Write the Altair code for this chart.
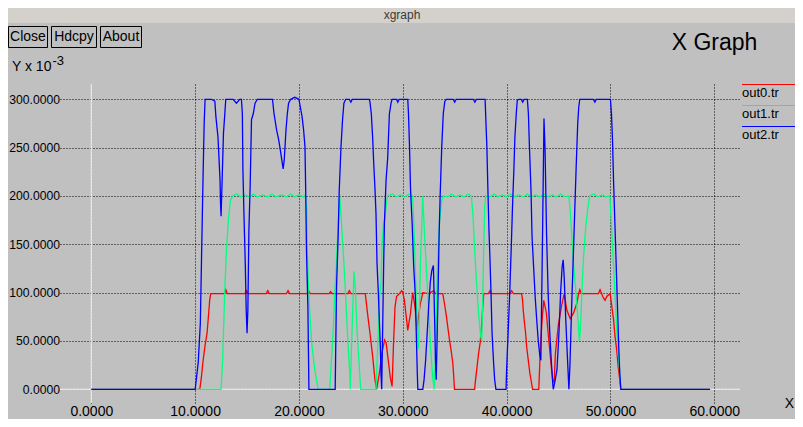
import altair as alt
import pandas as pd

# ---------------- data (x, y in units of 10^-3) ----------------
red_points = [
    (0, 0), (10.45, 0), (10.6, 12), (10.75, 28), (10.95, 45), (11.15, 58), (11.3, 78), (11.4, 92), (11.5, 99),
    (12.8, 99), (12.95, 103), (13.1, 99), (14.8, 99), (14.95, 102), (15.1, 99),
    (16.85, 99), (17.0, 102), (17.15, 99), (18.8, 99), (18.95, 102), (19.1, 99),
    (20.8, 99), (20.98, 101), (21.1, 99), (22.9, 99), (23.05, 101), (23.2, 99),
    (24.7, 99), (24.85, 102), (25.0, 99), (26.39, 99),
    (26.6, 79), (26.84, 58), (27.1, 34), (27.32, 10), (27.48, 0),
    (27.75, 17), (28.0, 38), (28.25, 51), (28.4, 48), (28.6, 30), (28.8, 12), (28.97, 3),
    (29.1, 45), (29.25, 85), (29.4, 96), (29.6, 98), (29.9, 102), (30.0, 100),
    (30.16, 92), (30.26, 82), (30.39, 70), (30.48, 61), (30.61, 70), (30.74, 78), (30.87, 92), (30.96, 100),
    (31.12, 89), (31.28, 75), (31.38, 61), (31.51, 75), (31.7, 89), (31.83, 95), (31.93, 100),
    (32.5, 99), (32.99, 102), (33.15, 99), (33.85, 99),
    (34.01, 89), (34.17, 78), (34.34, 64), (34.5, 51), (34.66, 40), (34.82, 27), (34.91, 13), (34.98, 0),
    (36.92, 0), (37.0, 9), (37.15, 23), (37.3, 37), (37.45, 48), (37.6, 66), (37.7, 85), (37.8, 99),
    (38.25, 99), (38.4, 102), (38.55, 99), (40.3, 99), (40.48, 102), (40.65, 99), (41.45, 99),
    (41.54, 92), (41.6, 82), (41.7, 71), (41.83, 58), (41.93, 44), (42.09, 30), (42.25, 16), (42.41, 6), (42.5, 0),
    (43.1, 0), (43.26, 44), (43.42, 72), (43.58, 92), (43.83, 79), (44.06, 51), (44.31, 23), (44.44, 10),
    (44.58, 7), (44.7, 37), (44.86, 54), (45.0, 68), (45.18, 79), (45.34, 89), (45.55, 99),
    (45.8, 82), (46.13, 73), (46.45, 79), (46.77, 89), (46.93, 99), (47.05, 103), (47.2, 99),
    (48.85, 99), (49.0, 103), (49.15, 99), (49.3, 95), (49.48, 92), (49.65, 96), (49.97, 99),
    (50.13, 86), (50.3, 72), (50.45, 54), (50.6, 41), (50.75, 23), (50.9, 10), (51.0, 0), (59.6, 0),
]

green_points = [
    (0, 0), (12.5, 0), (12.65, 30), (12.85, 100), (13.0, 140), (13.2, 175), (13.4, 195), (13.6, 200),
    (14.0, 202), (14.4, 199), (14.8, 201), (15.2, 199), (15.6, 202), (16.0, 199), (16.5, 201), (17.0, 199),
    (17.4, 202), (17.8, 199), (18.3, 201), (18.8, 199), (19.2, 202), (19.6, 199), (20.0, 201), (20.4, 199), (20.6, 201),
    (20.73, 189), (20.79, 148), (20.89, 113), (21.05, 79), (21.2, 51), (21.37, 34), (21.53, 20), (21.69, 10), (21.85, 0),
    (22.97, 0), (23.1, 25), (23.3, 61), (23.45, 99), (23.6, 127), (23.75, 165), (23.92, 201),
    (24.1, 171), (24.26, 144), (24.42, 113), (24.58, 79), (24.74, 44), (24.88, 20), (24.95, 0),
    (25.05, 40), (25.15, 72), (25.3, 122), (25.45, 100), (25.6, 60), (25.8, 25), (25.95, 0),
    (27.42, 0), (27.52, 27), (27.65, 61), (27.74, 92), (27.9, 110), (28.0, 148), (28.15, 172), (28.3, 178),
    (28.45, 195), (28.55, 200), (29.0, 202), (29.4, 199), (29.8, 201), (30.2, 199), (30.6, 202), (30.95, 200),
    (31.1, 160), (31.25, 110), (31.4, 60), (31.52, 42), (31.7, 130), (31.92, 200),
    (32.1, 160), (32.3, 120), (32.5, 80), (32.7, 40), (32.9, 10), (33.05, 0),
    (33.2, 60), (33.35, 130), (33.55, 175), (33.75, 195), (33.9, 200),
    (34.3, 199), (34.7, 202), (35.1, 199), (35.5, 201), (35.9, 199), (36.3, 202), (36.6, 200),
    (36.75, 182), (36.9, 150), (37.05, 120), (37.2, 95), (37.35, 72), (37.5, 55), (37.6, 50),
    (37.7, 90), (37.8, 150), (37.9, 190), (38.0, 200),
    (38.4, 199), (38.8, 202), (39.2, 199), (39.6, 201), (40.0, 199), (40.4, 202), (40.8, 199), (41.2, 201),
    (41.6, 199), (42.0, 202), (42.4, 199), (42.8, 201), (43.2, 199), (43.6, 202), (44.0, 199), (44.4, 201),
    (44.8, 199), (45.2, 202), (45.6, 199), (46.0, 200),
    (46.15, 182), (46.3, 155), (46.45, 130), (46.6, 110), (46.75, 90), (46.9, 68), (47.0, 50),
    (47.1, 60), (47.25, 100), (47.4, 135), (47.6, 165), (47.8, 185), (48.0, 200),
    (48.4, 202), (48.8, 199), (49.2, 201), (49.6, 199), (49.95, 200),
    (50.05, 180), (50.2, 148), (50.35, 118), (50.5, 86), (50.65, 55), (50.8, 30), (50.95, 8), (51.0, 0), (59.6, 0),
]

blue_points = [
    (0, 0), (10.0, 0), (10.06, 5), (10.3, 28), (10.5, 68), (10.68, 172), (10.77, 223), (10.87, 275), (10.96, 300),
    (11.57, 300), (11.9, 298), (12.0, 282), (12.2, 261), (12.3, 239), (12.4, 216), (12.45, 191), (12.5, 179),
    (12.6, 216), (12.73, 265), (12.86, 285), (12.95, 300), (13.66, 300), (13.98, 296), (14.3, 300), (14.46, 300),
    (14.55, 285), (14.6, 229), (14.7, 182), (14.83, 130), (14.92, 82), (15.0, 58), (15.08, 82), (15.18, 165),
    (15.3, 210), (15.43, 279), (15.6, 285), (15.77, 296), (16.0, 300), (17.45, 300),
    (17.6, 285), (17.85, 268), (18.05, 258), (18.2, 248), (18.35, 237), (18.48, 228), (18.58, 237), (18.75, 268),
    (18.88, 285), (19.0, 296), (19.2, 300), (19.6, 302), (20.0, 300),
    (20.13, 292), (20.3, 282), (20.45, 268), (20.58, 251), (20.65, 206), (20.73, 141), (20.86, 86), (20.96, 0),
    (23.49, 0), (23.62, 106), (23.78, 160), (23.88, 206), (24.05, 251), (24.2, 279), (24.33, 296), (24.5, 300),
    (24.85, 300), (25.0, 297), (25.15, 300), (26.77, 300),
    (26.84, 297), (26.97, 285), (27.1, 260), (27.2, 234), (27.32, 208), (27.42, 182), (27.52, 130), (27.65, 99),
    (27.74, 72), (27.84, 44), (27.9, 16), (27.97, 0),
    (28.06, 60), (28.16, 130), (28.23, 171), (28.39, 216), (28.55, 240), (28.71, 285), (28.87, 296), (28.97, 300),
    (29.4, 300), (29.52, 297), (29.65, 300), (30.48, 300),
    (30.55, 285), (30.65, 251), (30.75, 206), (30.9, 172), (31.05, 127), (31.2, 99), (31.3, 58), (31.4, 16), (31.45, 0),
    (31.93, 0), (32.05, 10), (32.2, 30), (32.35, 58), (32.5, 87), (32.65, 111), (32.8, 123), (32.95, 128),
    (33.05, 80), (33.15, 30), (33.22, 10), (33.3, 50), (33.4, 100), (33.5, 160), (33.6, 200), (33.75, 250),
    (33.9, 285), (34.05, 298), (34.2, 300),
    (34.85, 300), (35.0, 297), (35.15, 300), (36.8, 300), (36.94, 297), (37.1, 300), (37.93, 300),
    (38.0, 279), (38.1, 251), (38.2, 206), (38.3, 165), (38.4, 134), (38.5, 99), (38.6, 58), (38.75, 27),
    (38.85, 10), (38.97, 0), (39.95, 0),
    (40.0, 20), (40.13, 54), (40.3, 99), (40.45, 148), (40.57, 189), (40.7, 227), (40.8, 261), (40.93, 285),
    (41.03, 299), (41.2, 300), (41.4, 300), (41.55, 297), (41.7, 300), (42.0, 300),
    (42.1, 285), (42.2, 251), (42.35, 206), (42.45, 158), (42.6, 127), (42.75, 96), (42.9, 72), (43.05, 50),
    (43.2, 35), (43.3, 30), (43.45, 150), (43.6, 280), (43.7, 250), (43.85, 160), (44.0, 100), (44.15, 60),
    (44.3, 30), (44.45, 5), (44.5, 0), (44.65, 8), (44.85, 20), (45.05, 60), (45.2, 100), (45.35, 127),
    (45.45, 134), (45.55, 115), (45.7, 72), (45.85, 35), (46.0, 0), (46.1, 25), (46.25, 80), (46.4, 130),
    (46.55, 180), (46.7, 230), (46.85, 275), (46.95, 292), (47.05, 300), (48.35, 300), (48.5, 297), (48.65, 300),
    (50.0, 300), (50.1, 285), (50.2, 258), (50.3, 216), (50.4, 182), (50.5, 148), (50.6, 113), (50.7, 79),
    (50.8, 44), (50.9, 17), (51.0, 0), (59.6, 0),
]

x_ticks = [0, 10, 20, 30, 40, 50, 60]
y_ticks = [0, 50, 100, 150, 200, 250, 300]
series_names = ["out0.tr", "out1.tr", "out2.tr"]
series_colors = ["#FF0000", "#00FF7F", "#0000FF"]
button_labels = ["Close", "Hdcpy", "About"]

FONT = "Liberation Sans"
BG = "#C0C0C0"


def frame(points):
    return pd.DataFrame(points, columns=["x", "y"])


x_scale = alt.Scale(domain=[-3.015, 62.48], nice=False, zero=False)
y_scale = alt.Scale(domain=[-14.17, 315.8], nice=False, zero=False)

common_axis = dict(
    format=".4f", title=None, grid=True, gridColor="black", gridDash=[1, 2], gridOpacity=1,
    gridWidth=1, domain=False, ticks=False, tickSize=0, labelFont=FONT,
    labelColor="black", labelOverlap=False, labelFlush=False,
)
x_axis = alt.Axis(values=x_ticks, labelPadding=12.5, labelBaseline="alphabetic", labelFontSize=14, **common_axis)
y_axis = alt.Axis(values=y_ticks, labelPadding=0.5, labelFontSize=12.2, **common_axis)

X = lambda: alt.X("x:Q", scale=x_scale, axis=x_axis)
Y = lambda: alt.Y("y:Q", scale=y_scale, axis=y_axis)

dummy = pd.DataFrame({"k": [0]})

layers = []

# white axis lines at x = 0 and y = 0
layers.append(alt.Chart(pd.DataFrame({"x": [0]})).mark_rule(color="white", strokeWidth=1).encode(x=X()))
layers.append(alt.Chart(pd.DataFrame({"y": [0]})).mark_rule(color="white", strokeWidth=1).encode(y=Y()))

# data traces (drawn in set order: red, green, blue)
for pts, col in zip([red_points, green_points, blue_points], series_colors):
    layers.append(
        alt.Chart(frame(pts)).mark_line(color=col, strokeWidth=1.3, interpolate="linear").encode(x=X(), y=Y())
    )


def txt(s, x, y, size=14, align="left", color="black"):
    return alt.Chart(dummy).mark_text(
        text=s, align=align, baseline="alphabetic", font=FONT, fontSize=size, color=color
    ).encode(x=alt.value(x), y=alt.value(y))


def hline(x1, x2, y, color):
    return alt.Chart(dummy).mark_rule(color=color, strokeWidth=1).encode(
        x=alt.value(x1), x2=alt.value(x2), y=alt.value(y)
    )


# legend on the right
for i, (name, col) in enumerate(zip(series_names, series_colors)):
    layers.append(hline(682, 740, 0.5 + 21 * i, col))
    layers.append(txt(name, 682, 12.5 + 21 * i, size=13))

# window title bar
layers.append(
    alt.Chart(dummy).mark_rect(color="#D4D1CD").encode(
        x=alt.value(-52), x2=alt.value(735), y=alt.value(-76), y2=alt.value(-61)
    )
)
layers.append(txt("xgraph", 342, -65, size=12, align="center", color="#3A3A3A"))

# buttons
button_boxes = [(-51.5, -12.5), (-8.5, 36.5), (40.5, 81.5)]
for label, (bx1, bx2) in zip(button_labels, button_boxes):
    layers.append(
        alt.Chart(dummy).mark_rect(filled=False, color="black", strokeWidth=1).encode(
            x=alt.value(bx1), x2=alt.value(bx2), y=alt.value(-57.5), y2=alt.value(-36.5)
        )
    )
    layers.append(txt(label, (bx1 + bx2) / 2, -43, size=14, align="center"))

# headings and unit labels
layers.append(txt("X Graph", 611.7, -34.5, size=23))
layers.append(txt("Y x 10", -48, -13.5, size=14))
layers.append(txt("-3", -7.5, -19, size=13))
layers.append(txt("X", 734, 324, size=14, align="right"))

chart = alt.layer(*layers).properties(
    width=680,
    height=319,
    padding={"left": 52, "top": 76, "right": 55, "bottom": 16},
    autosize=alt.AutoSizeParams(type="none"),
    background=BG,
).configure_view(strokeWidth=0)

chart.save("out.html", embed_options={"renderer": "svg", "actions": False})
